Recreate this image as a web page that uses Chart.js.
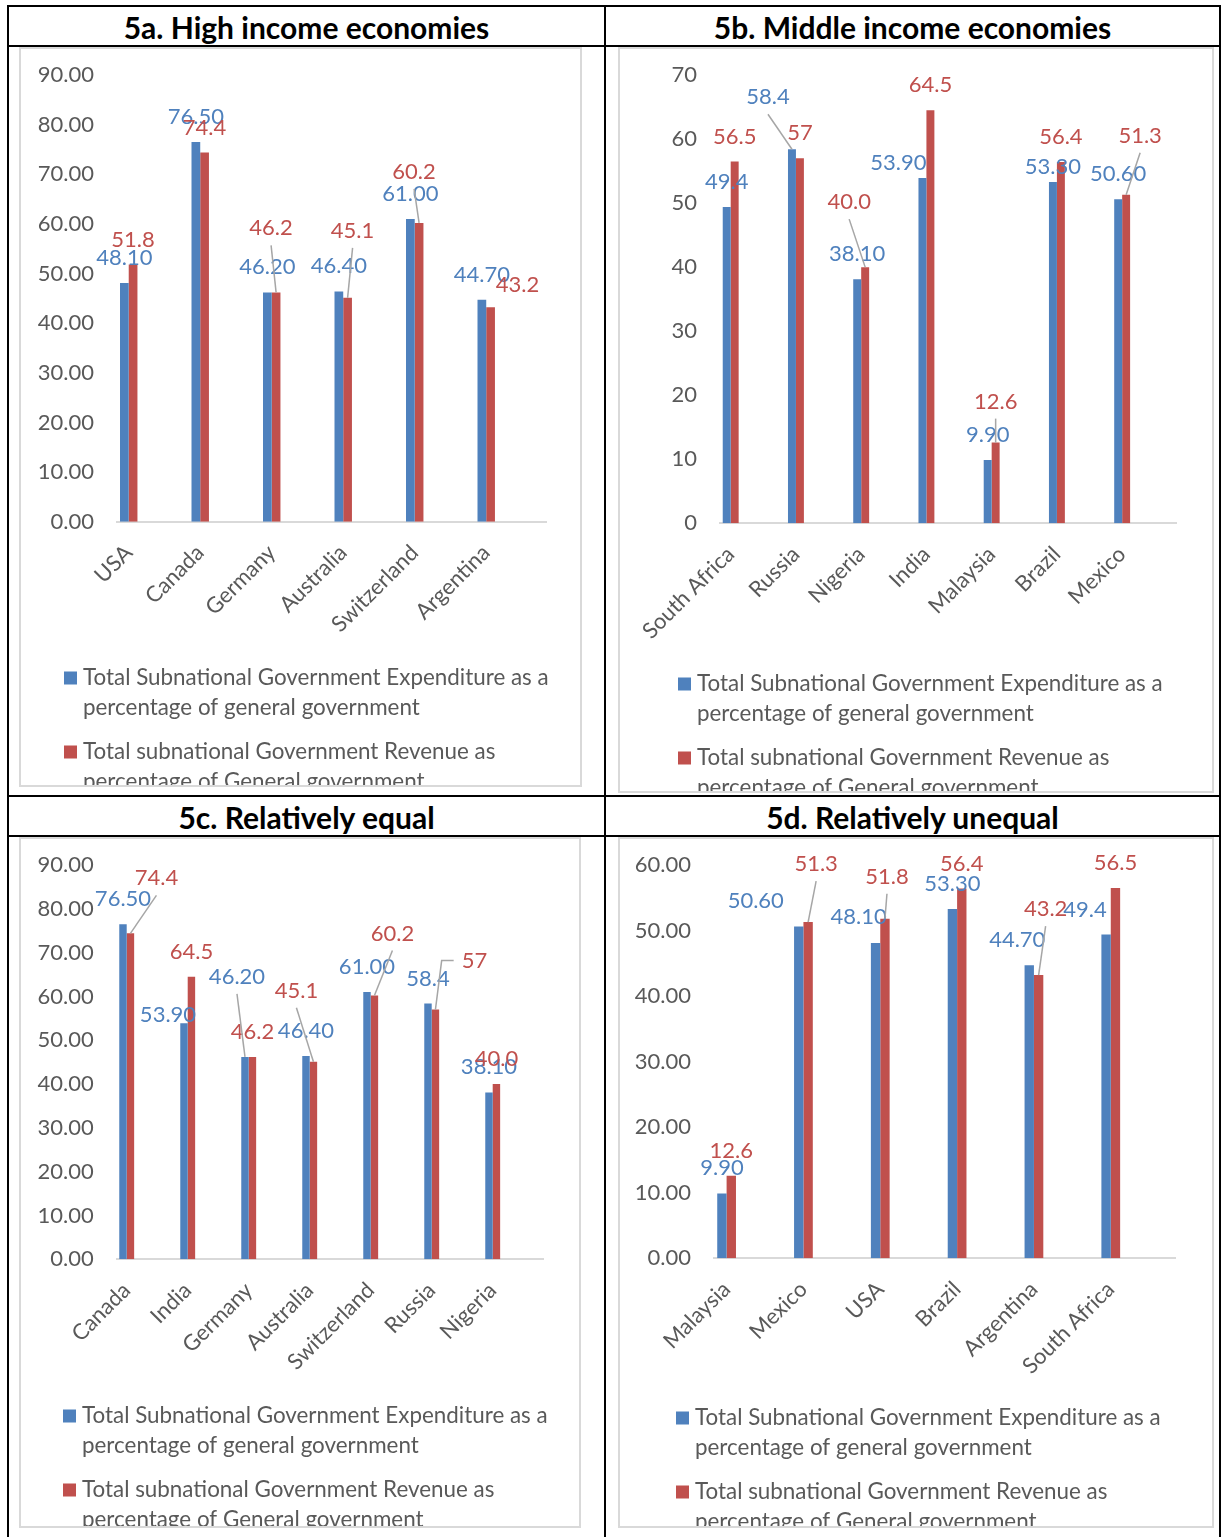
<!DOCTYPE html>
<html>
<head>
<meta charset="utf-8">
<title>Subnational government expenditure and revenue</title>
<script src="https://cdn.jsdelivr.net/npm/chart.js@4.4.1/dist/chart.umd.min.js"></script>
<style>
  html, body { margin: 0; padding: 0; background: #fff; }
  #page { position: relative; width: 1221px; height: 1537px; overflow: hidden; font-family: Lato, sans-serif; }
  .rule { position: absolute; background: #000; }
  .head { position: absolute; height: 38px; line-height: 40px; text-align: center; font-weight: bold; font-size: 30px; color: #000; }
  .frame { position: absolute; box-sizing: border-box; border: 2px solid #d9d9d9; overflow: hidden; }
  .frame canvas { position: absolute; left: 0; top: 0; }
</style>
</head>
<body>
<div id="page">
  <div class="rule" style="left:7px;top:5px;width:1214px;height:2px"></div>
  <div class="rule" style="left:7px;top:45px;width:1214px;height:2px"></div>
  <div class="rule" style="left:7px;top:795px;width:1214px;height:2px"></div>
  <div class="rule" style="left:7px;top:835px;width:1214px;height:2px"></div>
  <div class="rule" style="left:7px;top:5px;width:2px;height:1532px"></div>
  <div class="rule" style="left:604px;top:5px;width:2px;height:1532px"></div>
  <div class="rule" style="left:1219px;top:5px;width:2px;height:1532px"></div>

  <div class="head" style="left:9px;top:7px;width:595px">5a. High income economies</div>
  <div class="head" style="left:606px;top:7px;width:613px">5b. Middle income economies</div>
  <div class="head" style="left:9px;top:797px;width:595px">5c. Relatively equal</div>
  <div class="head" style="left:606px;top:797px;width:613px">5d. Relatively unequal</div>

  <div class="frame" id="f5a"><canvas></canvas></div>
  <div class="frame" id="f5b"><canvas></canvas></div>
  <div class="frame" id="f5c"><canvas></canvas></div>
  <div class="frame" id="f5d"><canvas></canvas></div>
</div>

<script>
// series shared by all four panels
const seriesNames = [
    'Total Subnational Government Expenditure as a percentage of general government',
    'Total subnational Government Revenue as percentage of General government'
];
const seriesColors = ['#4F81BD', '#C0504D'];

// 5a. High income economies
const hiCountries = ['USA', 'Canada', 'Germany', 'Australia', 'Switzerland', 'Argentina'];
const hiExpenditure = ['48.10', '76.50', '46.20', '46.40', '61.00', '44.70'];
const hiRevenue = ['51.8', '74.4', '46.2', '45.1', '60.2', '43.2'];
const hiTicks = [0, 10, 20, 30, 40, 50, 60, 70, 80, 90];

// 5b. Middle income economies
const midCountries = ['South Africa', 'Russia', 'Nigeria', 'India', 'Malaysia', 'Brazil', 'Mexico'];
const midExpenditure = ['49.4', '58.4', '38.10', '53.90', '9.90', '53.30', '50.60'];
const midRevenue = ['56.5', '57', '40.0', '64.5', '12.6', '56.4', '51.3'];
const midTicks = [0, 10, 20, 30, 40, 50, 60, 70];

// 5c. Relatively equal
const eqCountries = ['Canada', 'India', 'Germany', 'Australia', 'Switzerland', 'Russia', 'Nigeria'];
const eqExpenditure = ['76.50', '53.90', '46.20', '46.40', '61.00', '58.4', '38.10'];
const eqRevenue = ['74.4', '64.5', '46.2', '45.1', '60.2', '57', '40.0'];
const eqTicks = [0, 10, 20, 30, 40, 50, 60, 70, 80, 90];

// 5d. Relatively unequal
const uneqCountries = ['Malaysia', 'Mexico', 'USA', 'Brazil', 'Argentina', 'South Africa'];
const uneqExpenditure = ['9.90', '50.60', '48.10', '53.30', '44.70', '49.4'];
const uneqRevenue = ['12.6', '51.3', '51.8', '56.4', '43.2', '56.5'];
const uneqTicks = [0, 10, 20, 30, 40, 50, 60];

// hand-placed value labels: [dx, dy, leader] in px from the top of the bar,
// null keeps the usual spot just above the bar. leader 'b' = line from under
// the label, 'l' = elbow line from the left side of the label
const hiExpPos = [null, null, null, null, null, null];
const hiRevPos = [null, null, [-5, -64, 'b'], [5, -67, 'b'], [-5, -51, 'b'], [27, -22]];
const midExpPos = [null, [-24, -52, 'b'], null, [-24, -15], null, [0, -15], null];
const midRevPos = [null, null, [-16, -65, 'b'], null, [0, -41, 'b'], null, [14, -59, 'b']];
const eqExpPos = [null, [-16, -8], [-8, -80, 'b'], null, null, null, null];
const eqRevPos = [[26, -55, 'b'], null, null, [-17, -71, 'b'], [18, -62, 'b'], [39, -49, 'l'], null];
const uneqExpPos = [null, [-43, -26], [-17, -26], null, [-12, -25], [-21, -25]];
const uneqRevPos = [null, [8, -58, 'b'], [2, -42, 'b'], null, [7, -66, 'b'], null];

const LABEL_FONT = '22px Lato';
const LEGEND_FONT = '22.4px Lato';
Chart.defaults.font.family = 'Lato';
Chart.defaults.font.size = 22;
Chart.defaults.color = '#595959';

// value labels and leader lines
const barLabels = {
    id: 'barLabels',
    afterDatasetsDraw(chart) {
        const ctx = chart.ctx;
        const leaders = [];
        ctx.save();
        ctx.font = LABEL_FONT;
        ctx.textAlign = 'center';
        ctx.textBaseline = 'middle';
        chart.data.datasets.forEach((ds, di) => {
            chart.getDatasetMeta(di).data.forEach((bar, i) => {
                const [dx, dy, leader] = ds.labelPos[i] || [0, -25];
                const lx = bar.x + dx, ly = bar.y + dy;
                ctx.fillStyle = ds.backgroundColor;
                ctx.fillText(ds.labelText[i], lx, ly);
                if (leader === 'b') {
                    leaders.push([[lx, ly + 17], [bar.x, bar.y]]);
                } else if (leader === 'l') {
                    const left = lx - ctx.measureText(ds.labelText[i]).width / 2;
                    leaders.push([[left - 8, ly], [left - 20, ly], [bar.x, bar.y]]);
                }
            });
        });
        ctx.strokeStyle = '#a6a6a6';
        ctx.lineWidth = 1.5;
        leaders.forEach(pts => {
            ctx.beginPath();
            ctx.moveTo(pts[0][0], pts[0][1]);
            pts.slice(1).forEach(p => ctx.lineTo(p[0], p[1]));
            ctx.stroke();
        });
        ctx.restore();
    }
};

function wrapText(ctx, text, maxWidth) {
    const lines = [];
    let line = '';
    text.split(' ').forEach(word => {
        const test = line ? line + ' ' + word : word;
        if (line && ctx.measureText(test).width > maxWidth) {
            lines.push(line);
            line = word;
        } else {
            line = test;
        }
    });
    lines.push(line);
    return lines;
}

// legend under the plot, with the long series names wrapped
const wrapLegend = {
    id: 'wrapLegend',
    afterDraw(chart, args, opts) {
        const ctx = chart.ctx;
        ctx.save();
        ctx.font = LEGEND_FONT;
        ctx.textAlign = 'left';
        ctx.textBaseline = 'middle';
        let y = opts.y;
        chart.data.datasets.forEach(ds => {
            ctx.fillStyle = ds.backgroundColor;
            ctx.fillRect(opts.x, y - 6.5, 13, 13);
            ctx.fillStyle = '#595959';
            const lines = wrapText(ctx, ds.label, opts.width);
            lines.forEach((line, k) => ctx.fillText(line, opts.x + 19, y + k * 30));
            y += (lines.length - 1) * 30 + 44;
        });
        ctx.restore();
    }
};

function buildChart(id, cfg) {
    const frame = document.getElementById(id);
    const [x1, y1, x2, y2] = cfg.frame;
    Object.assign(frame.style, {
        left: x1 + 'px', top: y1 + 'px',
        width: (x2 - x1) + 'px', height: (y2 - y1) + 'px'
    });
    const ox = x1 + 2, oy = y1 + 2;
    const cw = x2 - x1 - 4, ch = y2 - y1 - 4;
    const canvas = frame.querySelector('canvas');
    canvas.width = cw;
    canvas.height = ch;

    const [pl, pt, pr, pb] = cfg.plot;
    // the x axis box must be tall enough, its rotated labels are clipped to it
    const yAxisW = 80, xAxisH = 150;
    const n = cfg.cats.length;
    const series = [cfg.exp, cfg.rev];
    const positions = [cfg.expPos, cfg.revPos];

    return new Chart(canvas, {
        type: 'bar',
        data: {
            datasets: series.map((vals, s) => ({
                label: seriesNames[s],
                data: vals.map((v, i) => ({ x: i, y: Number(v) })),
                labelText: vals,
                labelPos: positions[s],
                backgroundColor: seriesColors[s],
                categoryPercentage: 0.244,
                barPercentage: 1
            }))
        },
        options: {
            responsive: false,
            animation: false,
            layout: {
                padding: {
                    left: pl - ox - yAxisW,
                    top: pt - oy,
                    right: ox + cw - pr,
                    bottom: oy + ch - pb - xAxisH
                }
            },
            scales: {
                x: {
                    type: 'linear',
                    offset: false,
                    bounds: 'data',
                    min: -0.164,
                    max: n - 0.164,
                    grid: { display: false, drawTicks: false },
                    border: { color: '#d9d9d9', width: 2 },
                    afterBuildTicks: axis => { axis.ticks = cfg.cats.map((c, i) => ({ value: i })); },
                    afterFit: axis => { axis.height = xAxisH; },
                    ticks: {
                        autoSkip: false,
                        minRotation: 45,
                        maxRotation: 45,
                        padding: 18,
                        callback: v => cfg.cats[v]
                    }
                },
                y: {
                    min: cfg.ticks[0],
                    max: cfg.ticks[cfg.ticks.length - 1],
                    // invisible tick marks keep the labels off the plot without padding the top
                    grid: { display: false, drawTicks: true, tickLength: 23 },
                    border: { display: false },
                    afterBuildTicks: axis => { axis.ticks = cfg.ticks.map(v => ({ value: v })); },
                    afterFit: axis => { axis.width = yAxisW; },
                    ticks: {
                        padding: 0,
                        callback: v => Number(v).toFixed(cfg.dec)
                    }
                }
            },
            plugins: {
                legend: { display: false },
                tooltip: { enabled: false },
                wrapLegend: { x: cfg.legend[0] - ox, y: cfg.legend[1] - oy, width: 500 }
            }
        },
        plugins: [barLabels, wrapLegend]
    });
}

buildChart('f5a', {
    cats: hiCountries, exp: hiExpenditure, rev: hiRevenue, ticks: hiTicks, dec: 2,
    expPos: hiExpPos, revPos: hiRevPos,
    frame: [19, 47, 582, 787], plot: [117, 75, 546, 521.7], legend: [64, 678]
});
buildChart('f5b', {
    cats: midCountries, exp: midExpenditure, rev: midRevenue, ticks: midTicks, dec: 0,
    expPos: midExpPos, revPos: midRevPos,
    frame: [618, 47, 1214, 793], plot: [720, 75, 1176.7, 523.3], legend: [678, 684]
});
buildChart('f5c', {
    cats: eqCountries, exp: eqExpenditure, rev: eqRevenue, ticks: eqTicks, dec: 2,
    expPos: eqExpPos, revPos: eqRevPos,
    frame: [19, 837, 581, 1528], plot: [116.7, 865, 543.7, 1259.3], legend: [63, 1416]
});
buildChart('f5d', {
    cats: uneqCountries, exp: uneqExpenditure, rev: uneqRevenue, ticks: uneqTicks, dec: 2,
    expPos: uneqExpPos, revPos: uneqRevPos,
    frame: [618, 837, 1214, 1528], plot: [714, 865, 1175, 1258.3], legend: [676, 1418]
});
</script>
</body>
</html>
